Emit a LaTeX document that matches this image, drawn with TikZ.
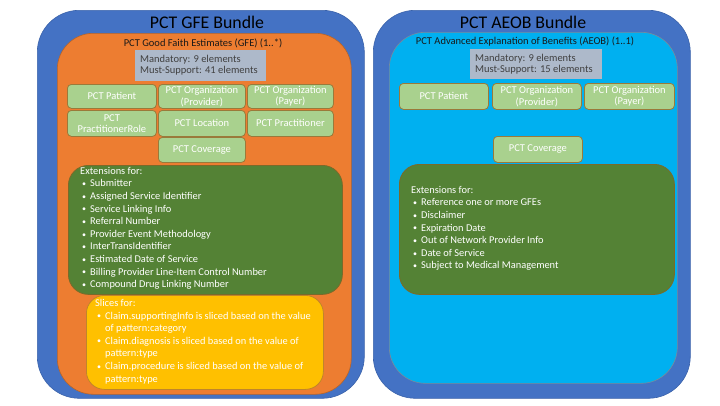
\documentclass[tikz,border=0pt]{standalone}
\usepackage{fontspec}
\setmainfont{Carlito}
\definecolor{bundleblue}{HTML}{4472C4}
\definecolor{bundleedge}{HTML}{3A62AA}
\definecolor{gfeorange}{HTML}{ED7D31}
\definecolor{gfeedge}{HTML}{B4642C}
\definecolor{aeobcyan}{HTML}{00B0F0}
\definecolor{aeobedge}{HTML}{7A8A9A}
\definecolor{countgray}{HTML}{ADB9CA}
\definecolor{counttext}{HTML}{404040}
\definecolor{resgreen}{HTML}{A9D18E}
\definecolor{resedge}{HTML}{9A7A3A}
\definecolor{extgreen}{HTML}{548235}
\definecolor{extedge}{HTML}{7A6A2A}
\definecolor{slicegold}{HTML}{FFC000}
\definecolor{sliceedge}{HTML}{C0852A}
\tikzset{
  panel/.style={anchor=north west, inner sep=0pt, line width=0.6pt},
  bundle/.style={panel, fill=bundleblue, draw=bundleedge, rounded corners=42pt},
  gfebody/.style={panel, fill=gfeorange, draw=gfeedge, rounded corners=36pt},
  aeobbody/.style={panel, fill=aeobcyan, draw=aeobedge, rounded corners=36pt},
  counts/.style={panel, fill=countgray, draw=none},
  resource/.style={panel, fill=resgreen, draw=resedge, line width=0.8pt, rounded corners=4pt,
    text=white, font=\fontsize{10.5}{11.5}\selectfont, align=center},
  extbox/.style={panel, fill=extgreen, draw=extedge, line width=0.8pt, rounded corners=20pt},
  slicebox/.style={panel, fill=slicegold, draw=sliceedge, line width=0.8pt, rounded corners=18pt},
  bundletitle/.style={font=\fontsize{17.8}{20}\selectfont, text=black, inner sep=0pt},
  bodytitle/.style={font=\fontsize{10.5}{12}\selectfont, text=black!90, inner sep=0pt},
  counttxt/.style={anchor=north west, font=\fontsize{10.5}{11.2}\selectfont, text=counttext,
    align=left, inner sep=0pt},
  listtxt/.style={anchor=north west, font=\fontsize{10.4}{12.6}\selectfont, text=white,
    align=left, inner sep=0pt},
}
% bullet item: small bullet indented a little, text hanging after it
\newcommand{\itm}[1]{\hspace*{2pt}\makebox[8pt][l]{\raisebox{0.3pt}{\footnotesize\textbullet}}#1}
\newcommand{\itmcont}[1]{\hspace*{10pt}#1}
\begin{document}
\begin{tikzpicture}[x=1pt, y=-1pt]
\useasboundingbox (0,0) rectangle (720,405);

% ---------------- GFE bundle ----------------
\node[bundle, minimum width=327pt, minimum height=388pt] (gfebundle) at (37,10) {};
\node[gfebody, minimum width=294pt, minimum height=361pt] (gfebody) at (57,33) {};
\node[bundletitle] (gfetitle) at (207,22) {PCT GFE Bundle};
\node[bodytitle] (gfesub) at (203,43) {PCT Good Faith Estimates (GFE) (1..*)};
\node[counts, minimum width=131pt, minimum height=31pt] (gfecounts) at (135,50) {};
\node[counttxt] (gfecounttxt) at (140,55) {Mandatory: 9 elements\\Must-Support: 41 elements};

\node[resource, minimum width=89pt, minimum height=24pt] (gpatient) at (67,84) {PCT Patient};
\node[resource, minimum width=87pt, minimum height=24pt] (gprov) at (158,84) {PCT Organization\\(Provider)};
\node[resource, minimum width=86pt, minimum height=24pt] (gpayer) at (247,84) {PCT Organization\\(Payer)};
\node[resource, minimum width=89pt, minimum height=26pt] (grole) at (67,110) {PCT\\PractitionerRole};
\node[resource, minimum width=87pt, minimum height=26pt] (glocation) at (158,110) {PCT Location};
\node[resource, minimum width=86pt, minimum height=26pt] (gpract) at (247,110) {PCT Practitioner};
\node[resource, minimum width=87pt, minimum height=25pt] (gcoverage) at (158,137) {PCT Coverage};

\node[extbox, minimum width=274pt, minimum height=129pt] (gfeext) at (68,165) {};
\node[listtxt] (gfeexttxt) at (80,167) {Extensions for:\\
  \itm{Submitter}\\
  \itm{Assigned Service Identifier}\\
  \itm{Service Linking Info}\\
  \itm{Referral Number}\\
  \itm{Provider Event Methodology}\\
  \itm{InterTransIdentifier}\\
  \itm{Estimated Date of Service}\\
  \itm{Billing Provider Line-Item Control Number}\\
  \itm{Compound Drug Linking Number}};

\node[slicebox, minimum width=237pt, minimum height=94pt] (gfeslice) at (86,295) {};
\node[listtxt] (gfeslicetxt) at (95,299) {Slices for:\\
  \itm{Claim.supportingInfo is sliced based on the value}\\
  \itmcont{of pattern:category}\\
  \itm{Claim.diagnosis is sliced based on the value of}\\
  \itmcont{pattern:type}\\
  \itm{Claim.procedure is sliced based on the value of}\\
  \itmcont{pattern:type}};

% ---------------- AEOB bundle ----------------
\node[bundle, minimum width=317pt, minimum height=388pt] (aeobbundle) at (373,10) {};
\node[aeobbody, minimum width=288pt, minimum height=351pt] (aeobbody) at (389,32) {};
\node[bundletitle] (aeobtitle) at (523,22) {PCT AEOB Bundle};
\node[bodytitle] (aeobsub) at (525,42) {PCT Advanced Explanation of Benefits (AEOB) (1..1)};
\node[counts, minimum width=132pt, minimum height=30pt] (aeobcounts) at (470,49) {};
\node[counttxt] (aeobcounttxt) at (475,54) {Mandatory: 9 elements\\Must-Support: 15 elements};

\node[resource, minimum width=89pt, minimum height=26pt] (apatient) at (399,83) {PCT Patient};
\node[resource, minimum width=89pt, minimum height=26pt] (aprov) at (492,83) {PCT Organization\\(Provider)};
\node[resource, minimum width=90pt, minimum height=26pt] (apayer) at (584,83) {PCT Organization\\(Payer)};
\node[resource, minimum width=89pt, minimum height=26pt] (acoverage) at (493,136) {PCT Coverage};

\node[extbox, minimum width=275pt, minimum height=130pt] (aeobext) at (399,164) {};
\node[listtxt] (aeobexttxt) at (411,186) {Extensions for:\\
  \itm{Reference one or more GFEs}\\
  \itm{Disclaimer}\\
  \itm{Expiration Date}\\
  \itm{Out of Network Provider Info}\\
  \itm{Date of Service}\\
  \itm{Subject to Medical Management}};
\end{tikzpicture}
\end{document}
